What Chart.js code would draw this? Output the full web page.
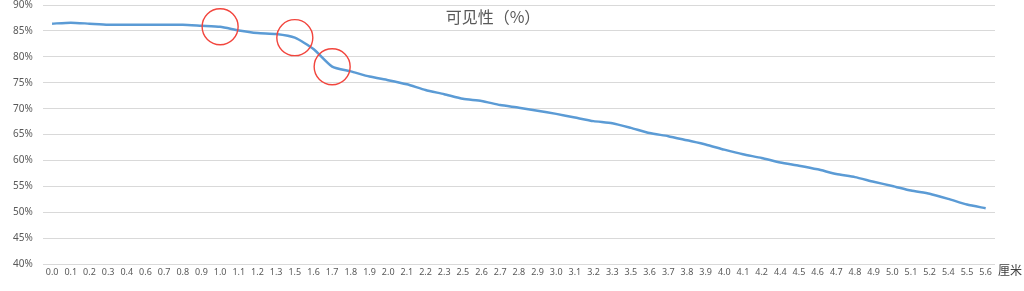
<!DOCTYPE html>
<html>
<head>
<meta charset="utf-8">
<script src="https://cdn.jsdelivr.net/npm/chart.js@4/dist/chart.umd.min.js"></script>
<style>
html,body{margin:0;padding:0;background:#fff;}
#wrap{width:1024px;height:291px;position:relative;}
</style>
</head>
<body>
<div id="wrap"><canvas id="c" width="1024" height="291"></canvas></div>
<script>
const chartTitle = '可见性（%）';
const xAxisUnit = '厘米';
const categories = ['0.0','0.1','0.2','0.3','0.4','0.6','0.7','0.8','0.9','1.0','1.1','1.2','1.3','1.5','1.6','1.7','1.8','1.9','2.0','2.1','2.2','2.3','2.5','2.6','2.7','2.8','2.9','3.0','3.1','3.2','3.3','3.5','3.6','3.7','3.8','3.9','4.0','4.1','4.2','4.4','4.5','4.6','4.7','4.8','4.9','5.0','5.1','5.2','5.4','5.5','5.6'];
const visibility = [86.4,86.6,86.4,86.2,86.2,86.2,86.2,86.2,86.0,85.8,85.1,84.6,84.4,83.7,81.5,78.1,77.2,76.2,75.5,74.7,73.6,72.8,71.9,71.5,70.7,70.2,69.6,69.0,68.3,67.6,67.2,66.3,65.3,64.7,63.9,63.1,62.1,61.2,60.5,59.6,59.0,58.3,57.4,56.8,55.9,55.1,54.2,53.6,52.6,51.5,50.8];
const highlighted = ['1.0','1.5','1.7'];
const yTicks = {min:40, max:90, step:5};

const overlay = {
  id:'overlay',
  afterDatasetsDraw(chart){
    const {ctx, scales:{x,y}} = chart;
    ctx.save();
    ctx.strokeStyle = '#f2453d';
    ctx.lineWidth = 1.4;
    highlighted.forEach(cat=>{
      const i = categories.indexOf(cat);
      const px = x.getPixelForValue(i);
      const py = y.getPixelForValue(visibility[i]);
      ctx.beginPath();
      ctx.arc(px, py, 18, 0, Math.PI*2);
      ctx.stroke();
    });
    ctx.fillStyle = '#595959';
    ctx.font = '16px "Noto Sans CJK SC", sans-serif';
    ctx.textAlign = 'center';
    ctx.textBaseline = 'middle';
    ctx.fillText(chartTitle, 493, 17);
    ctx.fillStyle = '#404040';
    ctx.font = '12px "Noto Sans CJK SC", sans-serif';
    ctx.textAlign = 'left';
    ctx.fillText(xAxisUnit, 998, 270);
    ctx.restore();
  }
};

new Chart(document.getElementById('c'), {
  type:'line',
  data:{
    labels: categories,
    datasets:[{
      data: visibility,
      borderColor:'#5B9BD5',
      borderWidth:2.5,
      pointRadius:0,
      tension:0.2,
      fill:false
    }]
  },
  options:{
    responsive:false,
    animation:false,
    layout:{padding:{left:3,right:29,top:5,bottom:10}},
    plugins:{legend:{display:false},title:{display:false},tooltip:{enabled:false}},
    scales:{
      x:{
        offset:true,
        grid:{display:false, drawTicks:false},
        border:{display:false},
        ticks:{autoSkip:false, maxRotation:0, color:'#595959', font:{size:9, family:'"Noto Sans", sans-serif'}, padding:3}
      },
      y:{
        min:yTicks.min, max:yTicks.max,
        afterFit:(s)=>{ s.paddingTop = 0; },
        grid:{color:'#d9d9d9', lineWidth:1, drawTicks:false},
        border:{display:false},
        ticks:{stepSize:yTicks.step, color:'#595959', font:{size:10, family:'"Noto Sans", sans-serif'}, padding:10, callback:v=>v+'%'}
      }
    }
  },
  plugins:[overlay]
});
</script>
</body>
</html>
